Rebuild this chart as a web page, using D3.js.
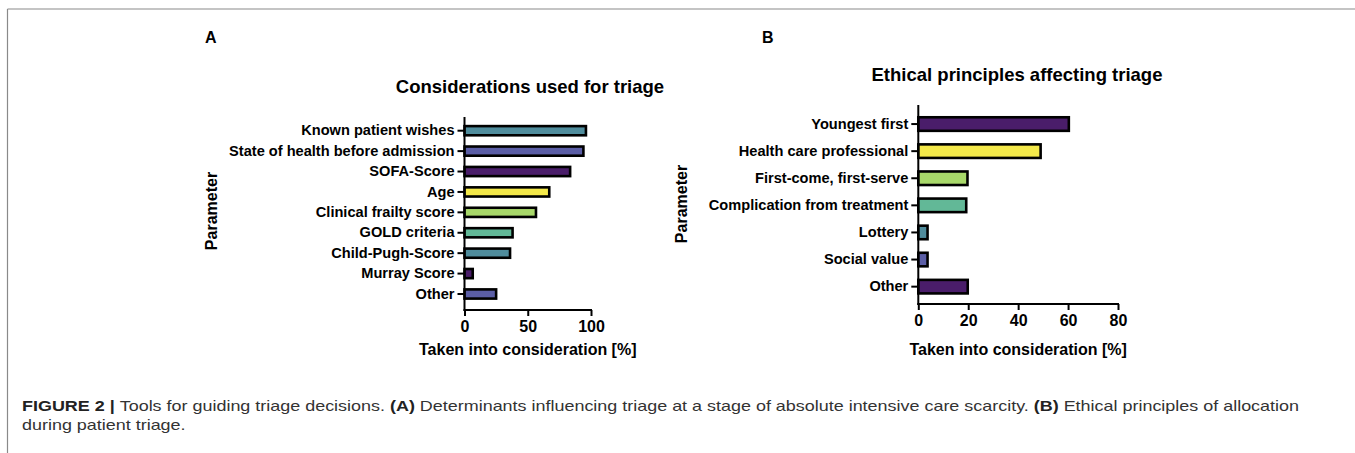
<!DOCTYPE html>
<html>
<head>
<meta charset="utf-8">
<script src="https://cdn.jsdelivr.net/npm/d3@7"></script>
<style>
  body { margin: 0; background: #fff; }
  svg { display: block; font-family: "Liberation Sans", Arial, Helvetica, sans-serif; }
  .axis path, .axis line { stroke: #000; stroke-width: 2; }
  .axis text { font-weight: bold; fill: #000; }
</style>
<title>Figure 2</title>
</head>
<body>
<script>
// panel A
var catsA = ["Known patient wishes", "State of health before admission", "SOFA-Score", "Age",
  "Clinical frailty score", "GOLD criteria", "Child-Pugh-Score", "Murray Score", "Other"];
var valsA = [96, 94, 83.5, 67, 56.5, 38, 36, 6.5, 25];
var colsA = ["#4f8c9c", "#5b5ea6", "#4a1d6a", "#f4e94a", "#a8d86a", "#62b897", "#4f8c9c", "#4a1d6a", "#5b5ea6"];
var ticksA = [0, 50, 100];

// panel B
var catsB = ["Youngest first", "Health care professional", "First-come, first-serve",
  "Complication from treatment", "Lottery", "Social value", "Other"];
var valsB = [60.3, 49, 19.7, 19.2, 3.7, 3.7, 19.8];
var colsB = ["#4a1d6a", "#f4e94a", "#a8d86a", "#62b897", "#4f8c9c", "#5b5ea6", "#4a1d6a"];
var ticksB = [0, 20, 40, 60, 80];

var width = 1355, height = 453;
var svg = d3.select("body").append("svg")
    .attr("width", width)
    .attr("height", height);

// frame
svg.append("line").attr("x1", 7.5).attr("x2", width).attr("y1", 9).attr("y2", 9)
   .attr("stroke", "#8a8a8a").attr("stroke-width", 1.2);
svg.append("line").attr("x1", 7.5).attr("x2", 7.5).attr("y1", 9).attr("y2", height)
   .attr("stroke", "#8a8a8a").attr("stroke-width", 1.2);

function panel(o) {
  var x = d3.scaleLinear().domain(o.xdom).range([o.x0, o.x1]);
  var y = d3.scaleBand().domain(o.cats).range(o.yrange)
      .paddingInner(o.pad).paddingOuter(o.pad / 2);

  var g = svg.append("g");

  g.append("text").attr("x", o.letterX).attr("y", 43)
    .style("font-size", "16px").style("font-weight", "bold").text(o.letter);

  g.append("text").attr("x", o.titleX).attr("y", o.titleY)
    .attr("text-anchor", "middle")
    .style("font-size", "18.5px").style("font-weight", "bold").text(o.title);

  g.selectAll("rect.bar").data(o.vals).enter().append("rect")
    .attr("class", "bar")
    .attr("x", x(0))
    .attr("y", function (d, i) { return y(o.cats[i]); })
    .attr("width", function (d) { return x(d) - x(0); })
    .attr("height", y.bandwidth())
    .attr("fill", function (d, i) { return o.cols[i]; })
    .attr("stroke", "#000")
    .attr("stroke-width", 2.6);

  var ya = g.append("g").attr("class", "axis")
    .attr("transform", "translate(" + x(0) + ",0)")
    .call(d3.axisLeft(y).tickSize(7).tickPadding(3).tickSizeOuter(0));
  ya.select(".domain").remove();
  ya.selectAll("text").style("font-size", "14.6px");

  var xa = g.append("g").attr("class", "axis")
    .attr("transform", "translate(0," + o.axisY + ")")
    .call(d3.axisBottom(x).tickValues(o.ticks).tickSize(6).tickPadding(5).tickSizeOuter(0));
  xa.select(".domain").remove();
  xa.selectAll("text").style("font-size", "16px");

  // axis lines
  g.append("line").attr("x1", x(0)).attr("x2", x(0)).attr("y1", o.axisTop).attr("y2", o.axisY + 1)
    .attr("stroke", "#000").attr("stroke-width", 2);
  g.append("line").attr("x1", x(0) - 1).attr("x2", o.x1 + 1).attr("y1", o.axisY).attr("y2", o.axisY)
    .attr("stroke", "#000").attr("stroke-width", 2);

  g.append("text").attr("x", (o.x0 + o.x1) / 2).attr("y", 355)
    .attr("text-anchor", "middle")
    .style("font-size", "16px").style("font-weight", "bold")
    .text("Taken into consideration [%]");

  g.append("text")
    .attr("transform", "translate(" + o.paramX + "," + o.paramY + ") rotate(-90)")
    .attr("text-anchor", "middle")
    .style("font-size", "16px").style("font-weight", "bold")
    .text("Parameter");
}

panel({
  cats: catsA, vals: valsA, cols: colsA, ticks: ticksA, xdom: [0, 100],
  x0: 464.5, x1: 591, yrange: [120.5, 304.2], pad: 0.55,
  axisTop: 117, axisY: 310,
  letter: "A", letterX: 205, title: "Considerations used for triage", titleX: 530, titleY: 93,
  paramX: 217, paramY: 211
});

panel({
  cats: catsB, vals: valsB, cols: colsB, ticks: ticksB, xdom: [0, 80],
  x0: 918.3, x1: 1118, yrange: [110.5, 300.2], pad: 0.5,
  axisTop: 105, axisY: 304,
  letter: "B", letterX: 762, title: "Ethical principles affecting triage", titleX: 1017, titleY: 81,
  paramX: 687, paramY: 204
});

// caption, squeezed to look like the condensed face of the original
var cap = svg.append("g");
var line1 = cap.append("text").attr("x", 22).attr("y", 411).style("font-size", "15px").attr("fill", "#333");
line1.append("tspan").style("font-weight", "bold").attr("fill", "#222").text("FIGURE 2 | ");
line1.append("tspan").text("Tools for guiding triage decisions. ");
line1.append("tspan").style("font-weight", "bold").attr("fill", "#222").text("(A)");
line1.append("tspan").text(" Determinants influencing triage at a stage of absolute intensive care scarcity. ");
line1.append("tspan").style("font-weight", "bold").attr("fill", "#222").text("(B)");
line1.append("tspan").text(" Ethical principles of allocation");
var w1 = line1.node().getComputedTextLength();
var k = 1277 / w1;
line1.attr("textLength", 1277).attr("lengthAdjust", "spacingAndGlyphs");
var line2 = cap.append("text").attr("x", 22).attr("y", 430).style("font-size", "15px").attr("fill", "#333")
  .text("during patient triage.");
line2.attr("textLength", line2.node().getComputedTextLength() * k).attr("lengthAdjust", "spacingAndGlyphs");
</script>
</body>
</html>
